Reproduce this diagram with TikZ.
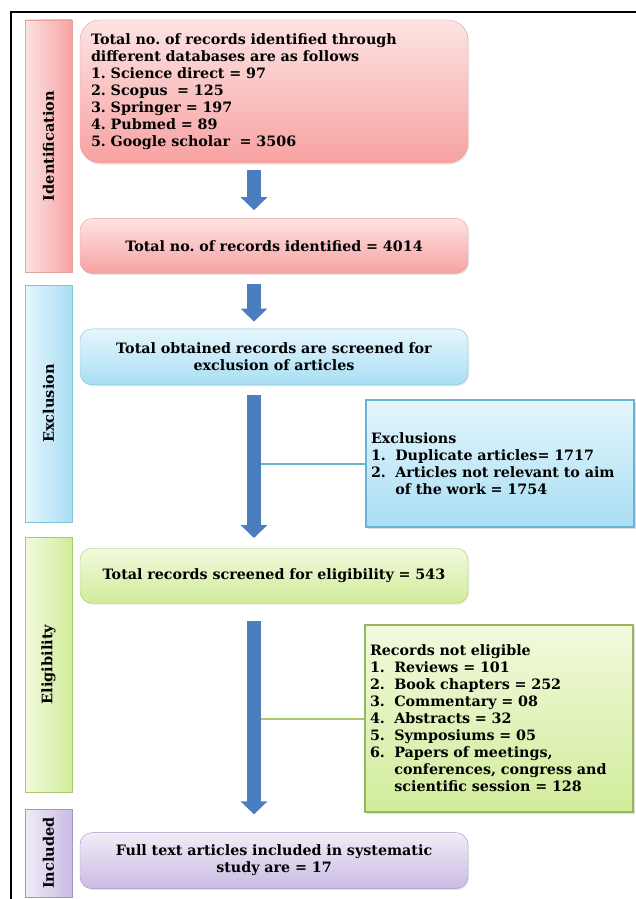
\documentclass[tikz,border=0pt]{standalone}
\usepackage{fontspec}
\setmainfont{DejaVu Serif}
\usetikzlibrary{positioning,arrows.meta,shadows}

\definecolor{pinktop}{HTML}{FDE3E3}
\definecolor{pinkbot}{HTML}{F7A2A2}
\definecolor{pinkline}{HTML}{E3A3A3}
\definecolor{bluetop}{HTML}{E5F6FD}
\definecolor{bluebot}{HTML}{A9DEF4}
\definecolor{blueline}{HTML}{80C3DC}
\definecolor{greentop}{HTML}{F2FADE}
\definecolor{greenbot}{HTML}{D1EC9A}
\definecolor{greenline}{HTML}{A9C96D}
\definecolor{purptop}{HTML}{F1ECF8}
\definecolor{purpbot}{HTML}{CABBE2}
\definecolor{purpline}{HTML}{A592C8}
\definecolor{arrowblue}{HTML}{4A7EBF}

\tikzset{
  boxfont/.style={font=\bfseries\fontsize{14.3}{17}\selectfont},
  stage/.style={font=\bfseries\fontsize{14.5}{17}\selectfont, draw=#1line,
    left color=#1top, right color=#1bot,
    rotate=90, minimum height=47pt, inner sep=0pt},
  mainbox/.style={boxfont, draw=#1line, top color=#1top, bottom color=#1bot,
    rounded corners=12pt, minimum width=388pt, text width=366pt,
    align=center, inner sep=0pt,
    drop shadow={opacity=0.18, shadow xshift=1pt, shadow yshift=-1.5pt}},
  sidebox/.style={boxfont, draw=#1line, line width=1.8pt,
    top color=#1top, bottom color=#1bot, minimum width=268pt,
    text width=258pt, align=left, inner sep=0pt,
    drop shadow={opacity=0.25, shadow xshift=1.5pt, shadow yshift=-2pt}},
  bigarrow/.style={draw=arrowblue, line width=14pt,
    -{Triangle[width=26pt,length=13pt]}},
  joinline/.style={draw=#1, line width=2pt}
}
\newcommand{\numitem}[1]{\makebox[1.7em][l]{#1}}
\frenchspacing

\begin{document}
\begin{tikzpicture}[x=1pt, y=-1pt, node distance=55pt]
  \useasboundingbox (0,0) rectangle (636,899);
  % outer frame
  \draw[line width=2.6pt] (11,899) -- (11,12) -- (636,12);

  % stages
  \node[stage=pink, minimum width=252pt] (idlab) at (48.5,146) {Identification};
  \node[stage=blue, minimum width=237pt] (exlab) at (48.5,403.5) {Exclusion};
  \node[stage=green, minimum width=255pt] (ellab) at (48.5,664.5) {Eligibility};
  \node[stage=purp, minimum width=88pt] (inlab) at (48.5,853) {Included};

  % main column
  \node[mainbox=pink, minimum height=143pt, align=left, rounded corners=20pt] (dbs) at (274,91.5)
    {Total no. of records identified through\\
     different databases are as follows\\
     1. Science direct = 97\\
     2. Scopus\ \ = 125\\
     3. Springer = 197\\
     4. Pubmed = 89\\
     5. Google scholar\ \ = 3506};
  \node[mainbox=pink, minimum height=55pt, below=of dbs] (total)
    {Total no. of records identified = 4014};
  \node[mainbox=blue, minimum height=56pt, below=of total] (screen)
    {Total obtained records are screened for\\ exclusion of articles};
  \node[mainbox=green, minimum height=55pt, below=163pt of screen] (elig)
    {Total records screened for eligibility = 543};
  \node[mainbox=purp, minimum height=56pt, below=229pt of elig] (incl)
    {Full text articles included in systematic\\ study are = 17};

  % side boxes
  \node[sidebox=blue, draw=cyan!55!teal!70!white, minimum height=127pt] (excl) at (500,463.5)
    {Exclusions\\
     \numitem{1.}Duplicate articles= 1717\\
     \numitem{2.}Articles not relevant to aim\\
     \numitem{}of the work = 1754};
  \node[sidebox=green, draw=greenline!90!black, minimum height=187pt] (notel) at (499,718.5)
    {Records not eligible\\
     \numitem{1.}Reviews = 101\\
     \numitem{2.}Book chapters = 252\\
     \numitem{3.}Commentary = 08\\
     \numitem{4.}Abstracts = 32\\
     \numitem{5.}Symposiums = 05\\
     \numitem{6.}Papers of meetings,\\
     \numitem{}conferences, congress and\\
     \numitem{}scientific session = 128};

  %% Arrows
  \coordinate (exshaft) at ([xshift=-13pt]screen.south);
  \coordinate (elshaft) at ([xshift=-13pt]elig.south);
  \path[joinline=blueline!80!teal] (excl.west) -- (excl.west -| exshaft);
  \path[joinline=greenline] (notel.west) -- (notel.west -| elshaft);
  \draw[bigarrow, shorten <=7pt, shorten >=8pt] ([xshift=-20pt]dbs.south) -- ([xshift=-20pt]total.north);
  \draw[bigarrow, shorten <=10pt, shorten >=7pt] ([xshift=-20pt]total.south) -- ([xshift=-20pt]screen.north);
  \draw[bigarrow, shorten <=10pt, shorten >=10pt] ([xshift=-20pt]screen.south) -- ([xshift=-20pt]elig.north);
  \draw[bigarrow, shorten <=18pt, shorten >=18pt] ([xshift=-20pt]elig.south) -- ([xshift=-20pt]incl.north);
\end{tikzpicture}
\end{document}
